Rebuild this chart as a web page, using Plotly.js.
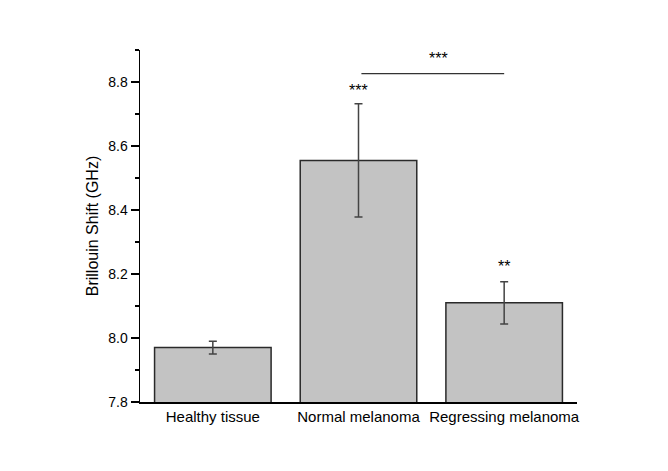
<!DOCTYPE html>
<html>
<head>
<meta charset="utf-8">
<script src="https://cdn.plot.ly/plotly-3.0.1.min.js"></script>
<style>html,body{margin:0;padding:0;background:#fff;}#chart{width:668px;height:471px;}</style>
</head>
<body>
<div id="chart"></div>
<script>
var categories = ["Healthy tissue", "Normal melanoma", "Regressing melanoma"];
var meanShift = [7.970, 8.555, 8.110];
var errShift = [0.020, 0.177, 0.066];
var sigLabels = ["", "***", "**"];
var sigY = [null, 8.774, 8.222];
var bracketFrom = 1, bracketTo = 2, bracketY = 8.826, bracketLabel = "***", bracketLabelY = 8.872;

var trace = {
  type: "bar",
  x: categories,
  y: meanShift,
  width: 0.8,
  marker: {color: "#c3c3c3", line: {color: "#2a2a2a", width: 1.5}},
  error_y: {type: "data", array: errShift, visible: true, color: "#444", thickness: 1.5, width: 4},
  hoverinfo: "none"
};

var annotations = [];
for (var i = 0; i < categories.length; i++) {
  if (sigLabels[i]) {
    annotations.push({x: categories[i], y: sigY[i], text: sigLabels[i], showarrow: false,
      xref: "x", yref: "y", font: {family: "Liberation Sans, Arial, sans-serif", size: 16, color: "#000"}});
  }
}
annotations.push({x: (bracketFrom + bracketTo) / 2 + 0.05, y: bracketLabelY, text: bracketLabel, showarrow: false,
  xref: "x", yref: "y", font: {family: "Liberation Sans, Arial, sans-serif", size: 16, color: "#000"}});

var layout = {
  width: 668, height: 471,
  margin: {l: 140, r: 91, t: 50, b: 69},
  paper_bgcolor: "#ffffff", plot_bgcolor: "rgba(0,0,0,0)",
  showlegend: false,
  font: {family: "Liberation Sans, Arial, sans-serif", size: 13, color: "#000"},
  xaxis: {
    type: "category", range: [-0.5, 2.5],
    showline: true, linecolor: "#000", linewidth: 1.5,
    ticks: "", showgrid: false, zeroline: false,
    tickfont: {size: 15}
  },
  yaxis: {
    range: [7.8, 8.9], dtick: 0.2, tick0: 7.8, tickformat: ".1f",
    showline: true, linecolor: "#000", linewidth: 1.5,
    ticks: "outside", ticklen: 8, tickwidth: 1.5, tickcolor: "#000",
    minor: {dtick: 0.1, ticks: "outside", ticklen: 4, tickwidth: 1.2, tickcolor: "#000"},
    showgrid: false, zeroline: false,
    tickfont: {size: 14},
    title: {text: "Brillouin Shift (GHz)", font: {size: 16}, standoff: 5}
  },
  shapes: [{type: "line", xref: "x", yref: "y", x0: bracketFrom + 0.02, x1: bracketTo, y0: bracketY, y1: bracketY,
    line: {color: "#333", width: 1.2}}],
  annotations: annotations
};

Plotly.newPlot("chart", [trace], layout, {displayModeBar: false, staticPlot: true});
</script>
</body>
</html>
